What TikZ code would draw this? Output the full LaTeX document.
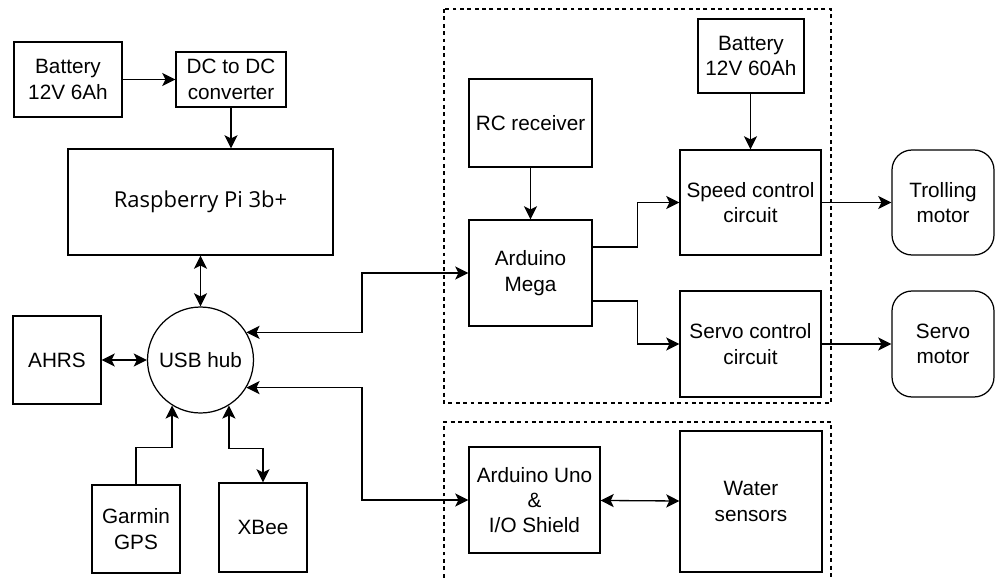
\documentclass[tikz,border=0pt]{standalone}
\usepackage{fontspec}
\setmainfont{Liberation Sans}
\newfontfamily\rpifont{Open Sans}
\usetikzlibrary{arrows.meta}

\tikzset{
  caja/.style={draw, line width=0.7pt, align=center, inner sep=1pt,
    font=\fontsize{11.8}{14.4}\selectfont},
  motor/.style={caja, rounded corners=0.4cm},
  punta/.tip={Stealth[length=7.5pt,width=7.5pt,inset=1.8pt]},
  flecha/.style={line width=0.75pt, -punta},
  doble/.style={line width=0.75pt, punta-punta},
  grupo/.style={line width=0.6pt, dash pattern=on 2.2pt off 2pt}
}

\begin{document}
\begin{tikzpicture}[x=0.02cm, y=-0.02cm] % 1 unidad = 1 pixel

    \useasboundingbox (0,0) rectangle (995,578);

    % Recuadros punteados
    \draw[grupo] (444,9) rectangle (831,403);
    \draw[grupo] (444,585) -- (444,422) -- (831,422) -- (831,585);

    % Alimentación y Raspberry
    \node[caja, minimum width=2.16cm, minimum height=1.5cm] (bat1) at (68,79.5) {Battery\\12V 6Ah};
    \node[caja, minimum width=2.2cm, minimum height=1.1cm] (dcdc) at (231,79.5) {DC to DC\\converter};
    \node[caja, minimum width=5.3cm, minimum height=2.12cm, font=\rpifont\fontsize{12.5}{15}\selectfont] (rpi) at (200.5,202) {Raspberry Pi 3b+};

    % Hub USB y periféricos
    \node[caja, circle, minimum size=2.12cm] (usb) at (200.5,360) {USB hub};
    \node[caja, minimum width=1.76cm, minimum height=1.76cm] (ahrs) at (57,360) {AHRS};
    \node[caja, minimum width=1.76cm, minimum height=1.76cm] (gps) at (136,529) {Garmin\\GPS};
    \node[caja, minimum width=1.76cm, minimum height=1.78cm] (xbee) at (263,527.5) {XBee};

    % Control de motores
    \node[caja, minimum width=2.46cm, minimum height=1.76cm] (rc) at (530.5,123) {RC receiver};
    \node[caja, minimum width=2.46cm, minimum height=2.12cm] (mega) at (530.5,273) {Arduino\\Mega};
    \node[caja, minimum width=2.12cm, minimum height=1.48cm] (bat2) at (751,56) {Battery\\12V 60Ah};
    \node[caja, minimum width=2.82cm, minimum height=2.1cm] (speed) at (750.5,202.5) {Speed control\\circuit};
    \node[caja, minimum width=2.82cm, minimum height=2.12cm] (servo) at (750.5,344) {Servo control\\circuit};
    \node[motor, minimum width=2.04cm, minimum height=2.1cm] (troll) at (943,202.5) {Trolling\\motor};
    \node[motor, minimum width=2.04cm, minimum height=2.12cm] (smotor) at (943,344) {Servo\\motor};

    % Sensores
    \node[caja, minimum width=2.62cm, minimum height=2.12cm] (uno) at (534.5,500) {Arduino Uno\\\&\\I/O Shield};
    \node[caja, minimum width=2.84cm, minimum height=2.82cm] (water) at (751,501.5) {Water\\sensors};

    \coordinate (bus) at (362,0);

    % Conexiones
    \draw[flecha] (bat1) -- (dcdc);
    \draw[flecha] (dcdc) -- (dcdc |- rpi.north);
    \draw[doble] (rpi.south -| usb) -- (usb);
    \draw[doble] (ahrs) -- (usb);
    \draw[flecha] (gps.north) -- ++(0,-37) -| (usb.238);
    \draw[doble] (usb.302) -- ++(0,43) -| (xbee.north);
    \draw[doble] (usb.31) -- (usb.31 -| bus) |- (mega.west);
    \draw[doble] (usb.-31) -- (usb.-31 -| bus) |- (uno.west);

    \draw[flecha] (rc) -- (mega);
    \draw[flecha] (bat2.south -| speed) -- (speed);
    \draw[flecha] ([yshift=0.52cm]mega.east) -- ++(45,0) |- (speed.west);
    \draw[flecha] ([yshift=-0.56cm]mega.east) -- ++(45,0) |- (servo.west);
    \draw[flecha] (speed) -- (troll);
    \draw[flecha] (servo) -- (smotor);
    \draw[doble] (uno) -- (water);
\end{tikzpicture}
\end{document}
